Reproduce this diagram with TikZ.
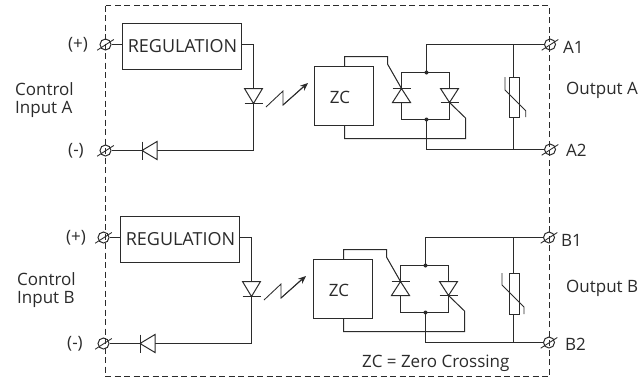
\documentclass[tikz,border=0pt]{standalone}
\usepackage{fontspec}
\setmainfont{Open Sans}
\usetikzlibrary{arrows.meta}
\definecolor{ink}{HTML}{2B2B2B}
\tikzset{
  wire/.style={draw=ink,line width=1pt,line join=miter},
  thinwire/.style={draw=ink,line width=0.85pt},
  boxed/.style={draw=ink,line width=1pt,inner sep=0pt},
  term/.style={circle,draw=ink,line width=1pt,minimum size=11pt,inner sep=0pt},
  lbl/.style={text=ink,font=\fontsize{17}{20}\selectfont,inner sep=0pt},
  lblreg/.style={text=ink,font=\fontsize{18}{20}\selectfont,inner sep=0pt},
  sym/.style={draw=ink,line width=1pt,fill=white},
  dot/.style={circle,fill=ink,minimum size=4pt,inner sep=0pt},
  frame/.style={draw=ink,line width=1pt,dash pattern=on 6pt off 3.5pt}
}
\newcommand{\termslash}[1]{\draw[thinwire] ([shift={(-8.3,5.7)}]#1.center) -- ([shift={(8.3,-5.0)}]#1.center);}
\newcommand{\LeftPart}[2]{%
\begin{scope}[shift={(#1)},name prefix=#2-]
  \node[term] (tp) at (105.5,44.5) {};
  \node[term] (tm) at (105.5,150.5) {};
  \node[boxed,minimum width=119pt,minimum height=46pt] (reg) at (182,46.5) {};
  \node[lblreg] at (182.5,46) {REGULATION};
  \coordinate (c1) at (253.5,44.5);
  \coordinate (c2) at (253.5,150.5);
  \draw[wire] (tp.east) -- (reg.west |- tp.east);
  \draw[wire] (reg.east |- c1) -- (c1) -- (c2) -- (tm.east);
  \termslash{tp}\termslash{tm}
  \draw[sym] (244.5,88.5) -- (262.5,88.5) -- (253.5,103.5) -- cycle;
  \draw[wire] (244.5,103.5) -- (262.5,103.5);
  \draw[sym] (157,141.5) -- (157,159.5) -- (142,150.5) -- cycle;
  \draw[wire] (142,141.5) -- (142,159.5);
  \draw[thinwire] (266,107) -- (283,91) -- (283,105) -- (303,87);
  \draw[thinwire,-{Stealth[length=8pt,width=6.5pt]}] (283,105) -- (308,83);
\end{scope}}
\newcommand{\RightPart}[2]{%
\begin{scope}[shift={(#1)},name prefix=#2-]
  \node[boxed,minimum width=59pt,minimum height=59pt] (zc) at (344,96) {};
  \node[lbl] at (340,97) {ZC};
  \node[term] (t1) at (550,44.5) {};
  \node[term] (t2) at (550,149.5) {};
  \node[dot] (dt) at (426.5,72.5) {};
  \node[dot] (db) at (426.5,119.5) {};
  \coordinate (g1) at (344.5,56.5);
  \coordinate (g2) at (387.5,56.5);
  \coordinate (g3) at (387.5,64);
  \coordinate (g4) at (401.5,88.5);
  \coordinate (h1) at (449.5,102.5);
  \coordinate (h2) at (465.5,118);
  \coordinate (h3) at (465.5,138.5);
  \coordinate (h4) at (344.5,138.5);
  \draw[wire] (zc.north -| g1) -- (g1) -- (g2) -- (g3) -- (g4);
  \draw[wire] (h1) -- (h2) -- (h3) -- (h4) -- (zc.south -| h4);
  \draw[wire] (dt.center) -- (401.5,72.5) -- (401.5,119.5) -- (db.center);
  \draw[wire] (dt.center) -- (449.5,72.5) -- (449.5,119.5) -- (db.center);
  \draw[wire] (dt.center) -- (426.5,44.5) -- (t1.west);
  \draw[wire] (db.center) -- (426.5,149.5) -- (t2.west);
  \termslash{t1}\termslash{t2}
  \draw[sym] (392.5,102.5) -- (410.5,102.5) -- (401.5,88.5) -- cycle;
  \draw[wire] (392.5,88.5) -- (410.5,88.5);
  \draw[sym] (440.5,88.5) -- (458.5,88.5) -- (449.5,102.5) -- cycle;
  \draw[wire] (440.5,102.5) -- (458.5,102.5);
\end{scope}}
\begin{document}
\begin{tikzpicture}[x=1pt,y=-1pt]
\useasboundingbox (0,0) rectangle (642,381);
\fill[white] (0,0) rectangle (642,381);
\draw[frame] (105.5,5.5) rectangle (549.5,376.5);
\LeftPart{0,0}{A}
\LeftPart{-2,193}{B}
\RightPart{0,0}{A}
\RightPart{-1,193}{B}
\node[draw=ink,line width=1pt,fill=white,minimum width=10pt,minimum height=40pt,inner sep=0pt] (va) at (514,97.5) {};
\coordinate (vat) at (513.5,44.5);
\coordinate (vab) at (513.5,149.5);
\draw[wire] (vat) -- (vat |- va.north);
\draw[wire] (vab) -- (vab |- va.south);
\draw[thinwire] (505,77) -- (505,90) -- (525.7,110.7) -- (525.7,117);
\node[draw=ink,line width=1pt,fill=white,minimum width=10pt,minimum height=41pt,inner sep=0pt] (vb) at (514,293.5) {};
\coordinate (vbt) at (513.5,237.5);
\coordinate (vbb) at (513.5,342.5);
\draw[wire] (vbt) -- (vbt |- vb.north);
\draw[wire] (vbb) -- (vbb |- vb.south);
\draw[thinwire] (502,273) -- (502,285) -- (524,307) -- (524,314);
\node[lbl] at (78,45) {(+)};
\node[lbl] at (76,151) {(-)};
\node[lbl] at (76,238) {(+)};
\node[lbl] at (75,344) {(-)};
\node[lbl,anchor=west] at (15,89) {Control};
\node[lbl,anchor=west] at (15,109) {Input A};
\node[lbl,anchor=west] at (17,279) {Control};
\node[lbl,anchor=west] at (17,299) {Input B};
\node[lbl,anchor=west] at (563,47) {A1};
\node[lbl,anchor=west] at (566,150) {A2};
\node[lbl,anchor=west] at (561,240) {B1};
\node[lbl,anchor=west] at (565,344) {B2};
\node[lbl,anchor=west] at (566,90) {Output A};
\node[lbl,anchor=west] at (566,288) {Output B};
\node[lbl,anchor=west] at (362,363) {ZC = Zero Crossing};
\end{tikzpicture}
\end{document}
